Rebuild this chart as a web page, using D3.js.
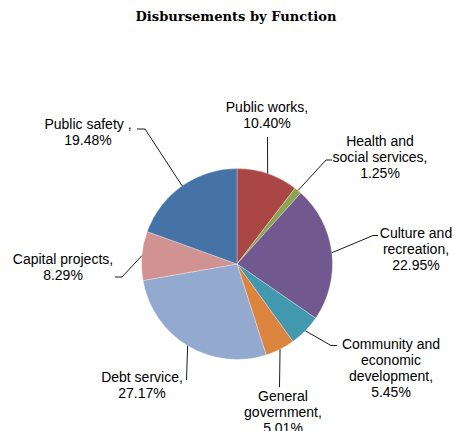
<!DOCTYPE html>
<html>
<head>
<meta charset="utf-8">
<script src="https://cdn.jsdelivr.net/npm/d3@7"></script>
<style>
  body { margin: 0; background: #fff; }
  svg { display: block; }
</style>
</head>
<body>
<svg id="chart" width="455" height="431" viewBox="0 0 455 431"></svg>
<script>
const categories = [
  "Public works",
  "Health and social services",
  "Culture and recreation",
  "Community and economic development",
  "General government",
  "Debt service",
  "Capital projects",
  "Public safety",
];
const shares = [10.40, 1.25, 22.95, 5.45, 5.01, 27.17, 8.29, 19.48];
// how each label breaks into lines (as in the original)
const labelLines = [
  ["Public works,", "10.40%"],
  ["Health and", "social services,", "1.25%"],
  ["Culture and", "recreation,", "22.95%"],
  ["Community and", "economic", "development,", "5.45%"],
  ["General", "government,", "5.01%"],
  ["Debt service,", "27.17%"],
  ["Capital projects,", "8.29%"],
  ["Public safety ,", "19.48%"],
];
const sliceColors = ["#aa4643", "#89a54e", "#71588f", "#4198af", "#db843d", "#93a9cf", "#d09392", "#4572a7"];

// label placement: text centre x, first baseline, leader end points
const labelLayout = [
  { x: 267, y: 112, leader: [[267.5, 137]] },
  { x: 380, y: 145.5, leader: [[326, 160], [332, 160]] },
  { x: 416, y: 237.5, leader: [[373, 235.5], [378, 235.5]] },
  { x: 391, y: 348.5, leader: [[331, 345.5], [337, 345.5]] },
  { x: 283, y: 400.5, leader: [[279.5, 387]] },
  { x: 142, y: 382, leader: [[186.5, 380]] },
  { x: 63, y: 263.5, leader: [[122, 277], [115, 277]] },
  { x: 88, y: 128.5, leader: [[145, 129], [137, 129]] },
];

const svg = d3.select("#chart");
const cx = 237, cy = 264, radius = 95.5;
const lineHeight = 16.3;

svg.append("text")
  .attr("x", 236)
  .attr("y", 21)
  .attr("text-anchor", "middle")
  .attr("font-family", "'DejaVu Serif', serif")
  .attr("font-weight", "bold")
  .attr("font-size", 12)
  .attr("textLength", 201)
  .attr("lengthAdjust", "spacingAndGlyphs")
  .text("Disbursements by Function");

const data = categories.map((name, i) => ({ name, value: shares[i], i }));

const pie = d3.pie().sort(null).value((d) => d.value);
const arc = d3.arc().innerRadius(0).outerRadius(radius);
const arcs = pie(data);

const g = svg.append("g").attr("transform", `translate(${cx},${cy})`);

g.selectAll("path.slice")
  .data(arcs)
  .join("path")
  .attr("class", "slice")
  .attr("d", arc)
  .attr("fill", (d) => sliceColors[d.data.i])
  .attr("stroke", "#fff")
  .attr("stroke-width", 0.5)
  .attr("stroke-opacity", 0.6);

// leader lines from the middle of each slice edge
const edgePoint = (d) => {
  const a = (d.startAngle + d.endAngle) / 2;
  return [cx + radius * Math.sin(a), cy - radius * Math.cos(a)];
};

svg.append("g")
  .selectAll("path")
  .data(arcs)
  .join("path")
  .attr("fill", "none")
  .attr("stroke", "#000")
  .attr("stroke-width", 0.9)
  .attr("d", (d) => d3.line()([edgePoint(d), ...labelLayout[d.data.i].leader]));

const labels = svg.append("g")
  .attr("font-family", "'Liberation Sans', Arial, sans-serif")
  .attr("font-size", 14)
  .attr("fill", "#000")
  .attr("text-anchor", "middle");

labels.selectAll("text")
  .data(arcs)
  .join("text")
  .attr("x", (d) => labelLayout[d.data.i].x)
  .attr("y", (d) => labelLayout[d.data.i].y)
  .each(function (d) {
    const t = d3.select(this);
    labelLines[d.data.i].forEach((line, k) => {
      t.append("tspan")
        .attr("x", labelLayout[d.data.i].x)
        .attr("dy", k === 0 ? 0 : lineHeight)
        .text(line);
    });
  });
</script>
</body>
</html>
